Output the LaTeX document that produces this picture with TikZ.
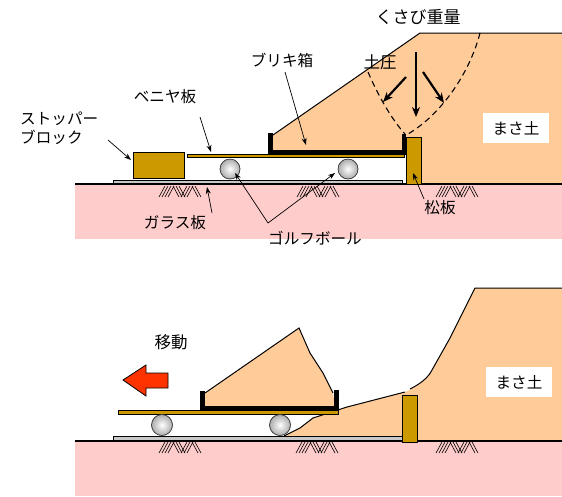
\documentclass[tikz,border=0pt]{standalone}
\usepackage{fontspec}
\newfontfamily\jp{Noto Sans CJK JP}
\usetikzlibrary{arrows.meta}

\definecolor{soil}{HTML}{FFCC99}
\definecolor{ground}{HTML}{FFCCCC}
\definecolor{board}{HTML}{CC9900}
\definecolor{glass}{HTML}{C8C8C8}
\definecolor{push}{HTML}{FF3300}

\tikzset{
  lbl/.style={font=\jp\fontsize{15.6}{19}\selectfont, inner sep=0pt},
  biglbl/.style={font=\jp\fontsize{17}{20}\selectfont, inner sep=0pt},
  pointer/.style={-{Stealth[length=7pt,width=5pt]}, line width=0.7pt},
  force/.style={-{Stealth[length=10pt,width=8pt]}, line width=2.2pt},
  slip/.style={line width=1.1pt, dash pattern=on 6pt off 4pt},
  edge/.style={line width=1pt},
  groundfill/.style={fill=ground},
  soilfill/.style={fill=soil},
  plate/.style={draw=black, line width=0.6pt, fill=glass},
  wood/.style={draw=black, line width=0.8pt, fill=board},
  wall/.style={fill=black},
  golfball/.style={draw=gray!50!black, line width=0.5pt, inner color=white, outer color=gray!65},
  labelbox/.style={fill=white, minimum width=66pt, minimum height=30pt, font=\jp\fontsize{15.6}{19}\selectfont},
  pics/hatch/.style={code={
    \foreach \i in {0,3,6,9} \draw[line width=0.6pt] (\i,11) -- (\i+6,0);
    \foreach \i in {14,17,20} \draw[line width=0.6pt] (\i,0) -- (\i+6,11);
    \foreach \i in {22,25,28} \draw[line width=0.6pt] (\i,11) -- (\i+6,0);
    \foreach \i in {33,36} \draw[line width=0.6pt] (\i,0) -- (\i+6,11);
  }}
}

\begin{document}
\begin{tikzpicture}[x=1pt,y=-1pt]
\useasboundingbox (0,0) rectangle (562,496);

% ===================== upper panel: before sliding =====================
% foundation
\fill[groundfill] (75,184) rectangle (562,239);
% backfill soil
\fill[soilfill] (273,135) -- (420,33) -- (562,33) -- (562,184) -- (406,184)
  -- (406,150) -- (273,150) -- cycle;
\draw[edge] (273,135) -- (420,33) -- (562,33);
% slip wedge boundaries
\draw[slip] (368,72) .. controls (380,100) and (394,122) .. (405,134);
\draw[slip] (480,33) .. controls (470,72) and (442,114) .. (408,134);
% glass plate and ground surface
\draw[plate] (113,180) rectangle (402,184);
\draw[line width=1.3pt] (75,184) -- (562,184);
\pic at (159,186) {hatch};
\pic at (297,186) {hatch};
\pic at (436,186) {hatch};
% stopper block
\draw[wood] (133,152) rectangle (184,178);
% veneer plate
\draw[plate, fill=board] (187,154) rectangle (404,157);
% tin box
\fill[wall] (268,133) rectangle (273,154);
\fill[wall] (268,150) rectangle (404,154);
\fill[wall] (402,134) rectangle (406,155);
% pine board
\draw[wood] (406,137) rectangle (421,184);
% golf balls
\shade[golfball] (230,169) circle (10);
\shade[golfball] (348,169) circle (10);
\draw[gray!50!black, line width=0.5pt] (230,169) circle (10) (348,169) circle (10);
% earth pressure and wedge weight
\draw[force] (416,52) -- (416,117);
\draw[force] (406,77) -- (383,102);
\draw[force] (423,72) -- (444,103);

% labels
\node[biglbl] (wedge) at (418,17) {くさび重量};
\node[font=\jp\fontsize{16.5}{19}\selectfont, inner sep=0pt] (press) at (380,62) {土圧};
\node[labelbox] (soilA) at (516,128) {まさ土};
\node[lbl] (boxlbl) at (282,60) {ブリキ箱};
\node[lbl] (veneer) at (165,97) {ベニヤ板};
\node[lbl, align=left, anchor=north west] (stopper) at (20,112) {ストッパー\\ブロック};
\node[lbl] (glasslbl) at (175,223) {ガラス板};
\node[lbl] (golf) at (315,238) {ゴルフボール};
\node[lbl] (pine) at (440,208) {松板};

\coordinate (stopS) at (108,140);  \coordinate (stopE) at (131,160);
\coordinate (venS) at (200,117);   \coordinate (venE) at (211,152);
\coordinate (boxS) at (285,72);    \coordinate (boxE) at (306,145);
\coordinate (glaS) at (212,213);   \coordinate (glaE) at (207,187);
\coordinate (golfJ) at (268,223);  \coordinate (golfL) at (235,173);
\coordinate (golfR) at (335,173);
\coordinate (pinS) at (424,199);   \coordinate (pinE) at (413,173);

\draw[pointer] (stopS) -- (stopE);
\draw[pointer] (venS) -- (venE);
\draw[pointer] (boxS) -- (boxE);
\draw[pointer] (glaS) -- (glaE);
\draw[pointer] (golfJ) -- (golfL);
\draw[pointer] (golfJ) -- (golfR);
\draw[pointer] (pinS) -- (pinE);

% ===================== lower panel: after sliding =====================
\fill[groundfill] (75,441) rectangle (562,496);
% collapsed soil
\fill[soilfill] (284,436) -- (300,428) -- (313,418) -- (347,407) -- (405,392)
  .. controls (420,385) and (428,378) .. (432,370)
  -- (450,338) -- (475,288) -- (562,288) -- (562,441) -- (402,441) -- (402,436) -- cycle;
\draw[edge] (284,436) -- (300,428) -- (313,418) -- (347,407) -- (405,392);
\draw[edge] (410,389) .. controls (420,384) and (428,378) .. (432,370)
  -- (450,338) -- (475,288) -- (562,288);
% glass plate and ground surface
\draw[plate] (113,436) rectangle (402,441);
\draw[line width=1.3pt] (75,441) -- (562,441);
\pic at (159,442) {hatch};
\pic at (296,442) {hatch};
\pic at (436,442) {hatch};
% pine board
\draw[wood] (402,395) rectangle (417,442);
% soil carried in the box
\fill[soilfill] (205,393) -- (299,328) -- (310,353) -- (323,373) -- (333,393) -- (335,407) -- (205,407) -- cycle;
\draw[edge] (205,393) -- (299,328) -- (310,353) -- (323,373) -- (333,393);
% veneer plate
\draw[plate, fill=board] (118,410) rectangle (338,414);
% tin box
\fill[wall] (200,391) rectangle (205,410);
\fill[wall] (200,406) rectangle (338,410);
\fill[wall] (334,390) rectangle (339,410);
% golf balls
\shade[golfball] (162,425) circle (10.5);
\shade[golfball] (280,425) circle (10.5);
\draw[gray!50!black, line width=0.5pt] (162,425) circle (10.5) (280,425) circle (10.5);
% direction of movement
\draw[fill=push, line width=0.8pt] (123,380) -- (146,365) -- (146,373) -- (168,373)
  -- (168,388) -- (146,388) -- (146,396) -- cycle;
\node[font=\jp\fontsize{16.5}{19}\selectfont, inner sep=0pt] (move) at (171,342) {移動};
\node[labelbox] (soilB) at (519,382) {まさ土};
\end{tikzpicture}
\end{document}
